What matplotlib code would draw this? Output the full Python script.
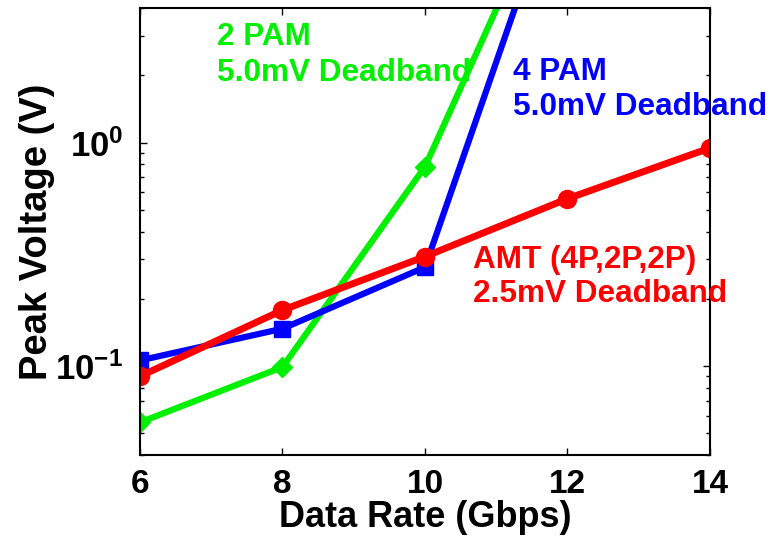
import matplotlib
matplotlib.use("Agg")
import matplotlib.pyplot as plt
from matplotlib.ticker import LogLocator, NullFormatter, FixedLocator

# data (Gbps vs peak voltage, V)
rates_pam2 = [6, 8, 10, 12]
peak_pam2 = [0.056, 0.099, 0.78, 20.0]

rates_pam4 = [6, 8, 10, 12]
peak_pam4 = [0.106, 0.147, 0.277, 19.0]

rates_amt = [6, 8, 10, 12, 14]
peak_amt = [0.090, 0.178, 0.309, 0.561, 0.946]

x_ticks = [6, 8, 10, 12, 14]

GREEN = "#00f000"
BLUE = "#0000ff"
RED = "#ff0000"

plt.rcParams.update({
    "font.family": ["Liberation Sans", "DejaVu Sans"],
    "font.weight": "bold",
    "mathtext.fontset": "custom",
    "mathtext.rm": "Liberation Sans:bold",
    "mathtext.bf": "Liberation Sans:bold",
    "mathtext.default": "bf",
})

fig = plt.figure(figsize=(7.73, 5.42), dpi=100)
ax = fig.add_axes([0.1811, 0.1605, 0.7374, 0.8247])

ax.plot(rates_pam2, peak_pam2, color=GREEN, lw=4.5, marker="D", ms=10)
ax.plot(rates_pam4, peak_pam4, color=BLUE, lw=4.5, marker="s", ms=11)
ax.plot(rates_amt, peak_amt, color=RED, lw=5, marker="o", ms=13)

ax.set_yscale("log")
ax.set_xlim(6, 14)
ax.set_ylim(0.04, 4.0)

ax.xaxis.set_major_locator(FixedLocator(x_ticks))
ax.set_xticklabels([str(v) for v in x_ticks], fontsize=24, fontweight="bold")
ax.yaxis.set_major_locator(LogLocator(base=10, numticks=10))
ax.yaxis.set_minor_locator(LogLocator(base=10, subs=range(2, 10), numticks=20))
ax.yaxis.set_minor_formatter(NullFormatter())

ax.tick_params(axis="both", which="both", direction="in", top=True, right=True, width=1)
ax.tick_params(axis="both", which="major", length=5)
ax.tick_params(axis="y", which="minor", length=3)
ax.tick_params(axis="x", which="major", pad=10)
ax.tick_params(axis="y", which="major", labelsize=25, pad=12)
for sp in ax.spines.values():
    sp.set_linewidth(1.5)

ax.set_xlabel("Data Rate (Gbps)", fontsize=26, fontweight="bold", labelpad=0)
ax.set_ylabel("Peak Voltage (V)", fontsize=27.5, fontweight="bold", labelpad=0)

# curve annotations, one text per line, baseline-anchored in axes fractions
labels = [
    (0.135, 0.917, "2 PAM", GREEN),
    (0.135, 0.837, "5.0mV Deadband", GREEN),
    (0.654, 0.839, "4 PAM", BLUE),
    (0.654, 0.761, "5.0mV Deadband", BLUE),
    (0.584, 0.418, "AMT (4P,2P,2P)", RED),
    (0.584, 0.342, "2.5mV Deadband", RED),
]
for x, y, s, c in labels:
    ax.text(x, y, s, transform=ax.transAxes, color=c, fontsize=22.7,
            fontweight="bold", va="baseline", ha="left")

fig.savefig("out.png", dpi=100)
